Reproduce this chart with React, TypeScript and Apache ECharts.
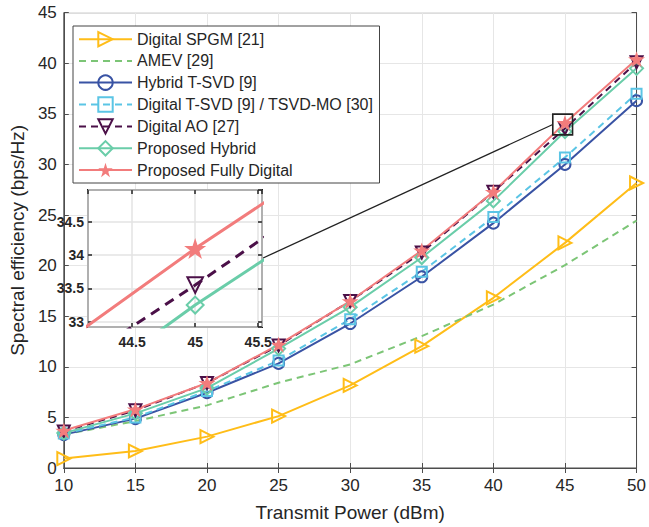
import React, { useEffect, useRef } from "react";
import * as echarts from "echarts";

// Transmit power (dBm) on the horizontal axis
const powers = [10, 15, 20, 25, 30, 35, 40, 45, 50];

// Spectral efficiency (bps/Hz) per scheme
const spgm = [0.93, 1.68, 3.1, 5.13, 8.16, 12.04, 16.82, 22.25, 28.17];
const amev = [3.3, 4.64, 6.19, 8.43, 10.24, 13.03, 16.15, 20.05, 24.45];
const hybridTsvd = [3.3, 4.88, 7.44, 10.34, 14.28, 18.9, 24.2, 30.0, 36.3];
const digitalTsvd = [3.4, 5.0, 7.6, 10.62, 14.7, 19.4, 24.8, 30.7, 37.0];
const digitalAo = [3.6, 5.7, 8.4, 12.1, 16.5, 21.3, 27.3, 33.55, 40.1];
const proposedHybrid = [3.45, 5.4, 7.9, 11.8, 15.9, 20.8, 26.4, 33.25, 39.5];
const proposedDigital = [3.7, 5.8, 8.4, 12.2, 16.5, 21.5, 27.3, 34.1, 40.4];

const names = [
  "Digital SPGM [21]",
  "AMEV [29]",
  "Hybrid T-SVD [9]",
  "Digital T-SVD [9] / TSVD-MO [30]",
  "Digital AO [27]",
  "Proposed Hybrid",
  "Proposed Fully Digital",
];

// Zoomed window around 45 dBm
const insetX = [44.15, 45.53];
const insetY = [32.92, 34.98];

const FONT = "'Liberation Sans', Arial, Helvetica, sans-serif";
const STAR =
  "path://M0,-10L2.245,-3.09L9.51,-3.09L3.633,1.18L5.878,8.09L0,3.82L-5.878,8.09L-3.633,1.18L-9.51,-3.09L-2.245,-3.09Z";

type Style = {
  values: number[];
  color: string;
  dash: boolean;
  symbol: string;
  rotate: number;
  size: number;
  hollow: boolean;
};

const styles: Style[] = [
  { values: spgm, color: "#FFBD18", dash: false, symbol: "triangle", rotate: -90, size: 13, hollow: true },
  { values: amev, color: "#7CC576", dash: true, symbol: "none", rotate: 0, size: 0, hollow: true },
  { values: hybridTsvd, color: "#3953A4", dash: false, symbol: "circle", rotate: 0, size: 11, hollow: true },
  { values: digitalTsvd, color: "#5BC5E5", dash: true, symbol: "rect", rotate: 0, size: 10, hollow: true },
  { values: digitalAo, color: "#4B1048", dash: true, symbol: "triangle", rotate: 180, size: 12, hollow: true },
  { values: proposedHybrid, color: "#6ACDA9", dash: false, symbol: "diamond", rotate: 0, size: 13, hollow: true },
  { values: proposedDigital, color: "#F27C7C", dash: false, symbol: STAR, rotate: 0, size: 17, hollow: false },
];

function buildSeries(inset: boolean) {
  return styles.map((s, i) => {
    const noMarker = s.symbol === "none";
    return {
      type: "line",
      name: names[i],
      xAxisIndex: inset ? 2 : 0,
      yAxisIndex: inset ? 2 : 0,
      z: inset ? 12 : 2,
      data: powers.map((p, k) => [p, s.values[k]]),
      symbol: s.symbol,
      showSymbol: !noMarker,
      symbolSize: inset ? s.size * 1.3 : s.size,
      symbolRotate: s.rotate,
      symbolKeepAspect: true,
      clip: true,
      lineStyle: {
        color: s.color,
        width: inset ? 3 : 2,
        type: s.dash ? (inset ? [10, 7] : [7, 5]) : "solid",
      },
      itemStyle: noMarker
        ? { color: "rgba(0,0,0,0)", borderColor: "rgba(0,0,0,0)", borderWidth: 0 }
        : s.hollow
        ? { color: "rgba(0,0,0,0)", borderColor: s.color, borderWidth: 2 }
        : { color: s.color, borderColor: s.color, borderWidth: 0 },
      emphasis: { disabled: true },
    };
  });
}

export default function App() {
  const ref = useRef<HTMLDivElement>(null);

  useEffect(() => {
    document.body.style.margin = "0";
    if (!ref.current) return;
    const chart = echarts.init(ref.current, null, { renderer: "svg" });

    const tickColor = "#4d4d4d";
    const mainAxisBase = {
      type: "value",
      axisLine: { show: true, lineStyle: { color: tickColor, width: 1 } },
      axisTick: { show: true, inside: true, length: 5, lineStyle: { color: tickColor } },
    };
    const insetAxisBase = {
      type: "value",
      axisLine: { show: false },
      axisTick: { show: true, inside: true, length: 4, lineStyle: { color: "#222", width: 1.5 } },
      z: 11,
    };

    chart.setOption({
      animation: false,
      backgroundColor: "#fff",
      textStyle: { fontFamily: FONT },
      grid: [
        {
          left: 59,
          right: 10.7,
          top: 12.7,
          bottom: 58.3,
          show: true,
          borderColor: tickColor,
          borderWidth: 1,
          backgroundColor: "#fff",
        },
        {
          left: 88,
          top: 190,
          width: 174,
          height: 137,
          show: true,
          borderColor: "#1a1a1a",
          borderWidth: 2,
          backgroundColor: "#fff",
          z: 10,
        },
      ],
      xAxis: [
        {
          ...mainAxisBase,
          gridIndex: 0,
          position: "bottom",
          min: 10,
          max: 50,
          interval: 5,
          name: "Transmit Power (dBm)",
          nameLocation: "middle",
          nameGap: 35,
          nameTextStyle: { fontSize: 19, color: "#262626", fontFamily: FONT },
          axisLabel: { fontSize: 17, color: "#262626", margin: 9, fontFamily: FONT },
          splitLine: { show: true, lineStyle: { color: "#e6e6e6", width: 1 } },
        },
        {
          ...mainAxisBase,
          gridIndex: 0,
          position: "top",
          min: 10,
          max: 50,
          interval: 5,
          axisLabel: { show: false },
          splitLine: { show: false },
        },
        {
          ...insetAxisBase,
          gridIndex: 1,
          position: "bottom",
          min: insetX[0],
          max: insetX[1],
          splitNumber: 3,
          axisLabel: {
            fontSize: 14,
            fontWeight: "bold",
            color: "#262626",
            margin: 8,
            showMinLabel: false,
            showMaxLabel: false,
            fontFamily: FONT,
          },
          splitLine: { show: true, lineStyle: { color: "#e3e3e3", width: 1.5 } },
        },
        {
          ...insetAxisBase,
          gridIndex: 1,
          position: "top",
          min: insetX[0],
          max: insetX[1],
          splitNumber: 3,
          axisLabel: { show: false },
          splitLine: { show: false },
        },
      ],
      yAxis: [
        {
          ...mainAxisBase,
          gridIndex: 0,
          position: "left",
          min: 0,
          max: 45,
          interval: 5,
          name: "Spectral efficiency (bps/Hz)",
          nameLocation: "middle",
          nameGap: 34,
          nameTextStyle: { fontSize: 19, color: "#262626", fontFamily: FONT },
          axisLabel: { fontSize: 17, color: "#262626", margin: 7, fontFamily: FONT },
          splitLine: { show: true, lineStyle: { color: "#e6e6e6", width: 1 } },
        },
        {
          ...mainAxisBase,
          gridIndex: 0,
          position: "right",
          min: 0,
          max: 45,
          interval: 5,
          axisLabel: { show: false },
          splitLine: { show: false },
        },
        {
          ...insetAxisBase,
          gridIndex: 1,
          position: "left",
          min: insetY[0],
          max: insetY[1],
          splitNumber: 4,
          axisLabel: {
            fontSize: 14,
            fontWeight: "bold",
            color: "#262626",
            margin: 4,
            showMinLabel: false,
            showMaxLabel: false,
            fontFamily: FONT,
          },
          splitLine: { show: true, lineStyle: { color: "#e3e3e3", width: 1.5 } },
        },
        {
          ...insetAxisBase,
          gridIndex: 1,
          position: "right",
          min: insetY[0],
          max: insetY[1],
          splitNumber: 4,
          axisLabel: { show: false },
          splitLine: { show: false },
        },
      ],
      legend: {
        data: names,
        orient: "vertical",
        left: 73,
        top: 26,
        padding: [5, 6, 5, 5],
        itemWidth: 53,
        itemHeight: 18,
        itemGap: 5.5,
        backgroundColor: "#fff",
        borderColor: "#444",
        borderWidth: 1,
        borderRadius: 0,
        selectedMode: false,
        textStyle: { fontSize: 16, color: "#262626", fontFamily: FONT },
        z: 6,
      },
      series: [...buildSeries(false), ...buildSeries(true)],
    });

    // Zoom box on the main axes and the connector to the inset
    const midY = (insetY[0] + insetY[1]) / 2;
    const a = chart.convertToPixel({ gridIndex: 0 }, [insetX[0], insetY[1]]) as number[];
    const b = chart.convertToPixel({ gridIndex: 0 }, [insetX[1], insetY[0]]) as number[];
    const c = chart.convertToPixel({ gridIndex: 0 }, [insetX[0], midY]) as number[];
    const d = chart.convertToPixel({ gridIndex: 1 }, [insetX[1], midY]) as number[];
    chart.setOption({
      graphic: [
        {
          type: "rect",
          z: 20,
          shape: { x: a[0], y: a[1], width: b[0] - a[0], height: b[1] - a[1] },
          style: { fill: "none", stroke: "#222", lineWidth: 1.6 },
          silent: true,
        },
        {
          type: "line",
          z: 9,
          shape: { x1: c[0], y1: c[1], x2: d[0], y2: d[1] },
          style: { stroke: "#222", lineWidth: 1.3 },
          silent: true,
        },
      ],
    });

    return () => chart.dispose();
  }, []);

  return <div ref={ref} style={{ width: 649, height: 527 }} />;
}
